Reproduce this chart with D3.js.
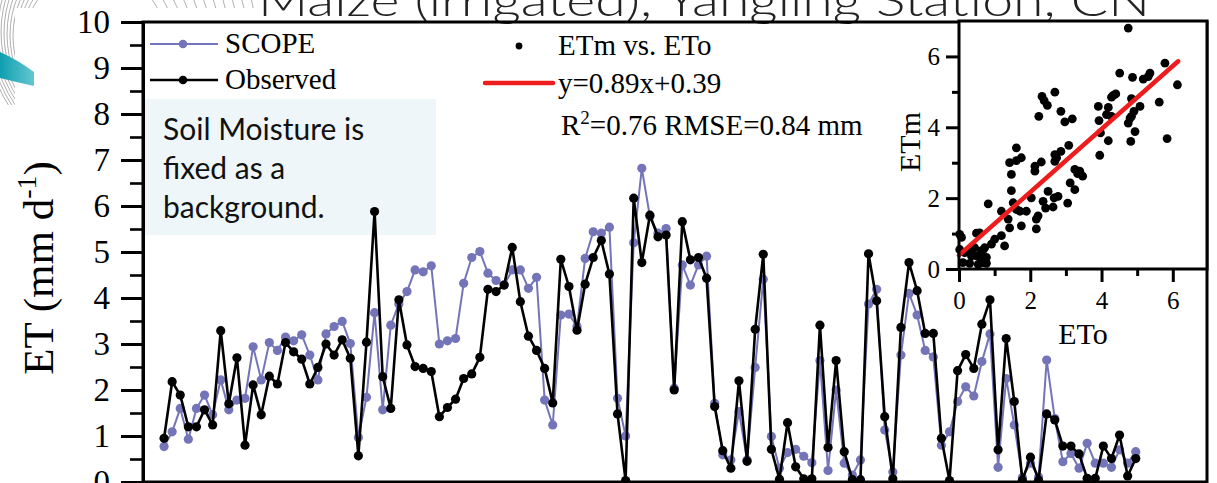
<!DOCTYPE html>
<html>
<head>
<meta charset="utf-8">
<script src="https://cdn.jsdelivr.net/npm/d3@7"></script>
<style>
  body { margin: 0; background: #fff; }
  svg { display: block; }
</style>
</head>
<body>
<div id="chart"></div>
<script>
// Daily ET (mm/d), one value per day
var observed = [0.95,2.18,1.89,1.20,1.20,1.57,1.24,3.29,1.70,2.70,0.80,2.11,1.46,2.30,2.13,3.03,2.83,2.67,2.13,2.49,
  3.00,2.76,3.09,2.69,0.57,3.04,5.88,2.29,1.60,3.96,2.98,2.51,2.47,2.40,1.42,1.62,1.80,2.25,2.35,2.71,
  4.19,4.14,4.28,5.10,3.92,3.17,2.86,2.47,1.72,4.84,4.25,3.30,4.30,4.88,5.25,4.52,1.48,0.03,6.17,4.77,
  5.80,5.33,5.37,2.00,5.66,4.83,4.88,4.43,1.64,0.68,0.30,2.20,0.45,3.32,4.95,0.71,0.06,1.29,0.33,0.07,
  0.07,3.41,0.75,2.64,0.66,0.05,0.05,4.96,3.94,1.42,0.07,3.36,4.77,4.16,3.23,3.23,0.95,0.03,2.42,2.77,
  2.47,3.43,3.96,0.70,3.12,1.75,0.04,0.54,0.04,1.48,1.35,0.78,0.78,0.61,0.08,0.08,0.78,0.51,1.02,0.13,0.51];
var scope = [0.77,1.09,1.60,0.93,1.60,1.89,1.46,2.22,1.57,1.78,1.82,2.94,2.22,3.03,2.86,3.15,3.07,3.20,2.76,2.22,
  3.22,3.38,3.49,3.01,0.97,1.84,3.68,1.57,3.41,3.87,4.14,4.61,4.57,4.70,3.00,3.07,3.12,4.32,4.88,5.01,
  4.54,4.38,4.28,4.61,4.61,4.21,4.45,1.78,1.24,3.63,3.65,3.38,4.86,5.44,5.41,5.54,1.82,1.00,5.20,6.82,
  5.77,5.41,5.51,2.04,4.72,4.28,4.72,4.91,1.71,0.59,0.48,1.53,0.48,2.49,4.41,0.99,0.30,0.64,0.71,0.56,
  0.42,2.64,0.25,2.00,0.41,0.15,0.48,3.87,4.19,1.13,0.22,2.76,4.10,3.63,2.86,2.72,0.80,1.09,1.75,2.07,
  1.87,2.62,3.22,0.32,2.25,1.24,0.10,0.41,0.11,2.65,1.38,0.44,0.62,0.30,0.84,0.41,0.41,0.32,0.70,0.41,0.66];
var etTicks = [0,1,2,3,4,5,6,7,8,9,10];
var etMinorTicks = [0.5,1.5,2.5,3.5,4.5,5.5,6.5,7.5,8.5,9.5];

// Inset: ETm vs ETo scatter
var eto = [2.69,2.33,2.39,2.48,2.24,2.86,3.18,2.97,3.08,1.61,1.75,1.42,1.61,2.13,2.13,2.31,2.69,2.69,2.86,2.74,
  3.25,3.33,3.12,3.25,1.47,1.47,0.82,1.19,1.52,1.61,1.71,1.89,2.03,2.36,2.50,2.67,2.78,2.64,2.43,3.05,
  2.22,2.17,1.75,1.38,1.42,2.17,1.19,1.00,1.28,0.91,0.58,0.07,0.02,0.02,0.30,0.44,0.49,0.63,0.72,0.77,
  0.54,0.68,0.11,0.35,0.16,0.30,0.58,0.77,0.49,0.68,
  4.75,5.78,6.13,4.51,4.87,5.17,5.31,5.36,4.33,4.40,4.28,3.91,4.19,4.14,4.28,3.93,3.97,4.19,3.95,4.84,
  5.08,4.91,4.84,4.80,4.75,4.94,4.82,5.62,5.84,3.39,3.47];
var etm = [4.99,4.87,4.75,4.62,4.31,4.45,4.24,4.15,3.49,3.42,3.14,3.00,3.06,2.90,2.76,3.02,3.23,3.04,3.32,3.14,
  2.81,2.69,2.43,2.24,2.67,2.21,1.84,1.63,1.87,1.68,1.63,1.63,2.01,1.91,2.19,2.01,2.05,1.75,1.72,1.86,
  1.50,1.41,1.22,1.41,1.16,1.13,0.94,0.84,0.65,0.70,1.02,0.89,0.98,0.55,0.51,0.60,0.37,0.51,0.60,0.33,
  0.13,0.18,0.18,0.37,0.46,0.16,0.34,0.16,1.01,0.54,
  6.80,5.81,5.20,5.53,5.41,5.36,5.43,5.53,4.90,4.94,4.85,4.59,4.56,4.36,4.31,4.19,3.84,3.62,3.21,4.81,
  4.59,4.45,4.31,4.26,4.12,3.88,3.60,4.71,3.68,2.76,2.62];
var insetTicks = [0,2,4,6];
var insetMinorTicks = [1,3,5];
var fitSlope = 0.89, fitIntercept = 0.39, fitRange = [0, 6.15];

var W = 1217, H = 483;
var serif = "'Liberation Serif', 'Times New Roman', serif";
var gothic = "Lato, 'DejaVu Sans', sans-serif";
var purple = "#7474b8";

var svg = d3.select("#chart").append("svg")
  .attr("width", W)
  .attr("height", H);

//Slide decoration in the top left corner
var defs = svg.append("defs");
var clip = defs.append("clipPath").attr("id", "decoClip");
clip.append("rect").attr("x", 0).attr("y", 0).attr("width", 15).attr("height", 105);
clip.append("rect").attr("x", 0).attr("y", 0).attr("width", 260).attr("height", 8);
var grad = defs.append("linearGradient").attr("id", "teal")
  .attr("x1", "0%").attr("x2", "100%").attr("y1", "0%").attr("y2", "0%");
grad.append("stop").attr("offset", "0%").attr("stop-color", "#0f9fb0");
grad.append("stop").attr("offset", "100%").attr("stop-color", "#63c7d0");

var deco = svg.append("g").attr("clip-path", "url(#decoClip)");
d3.range(14).forEach(function(k){
  deco.append("circle")
    .attr("cx", 95 + k * 3)
    .attr("cy", 40 - k)
    .attr("r", 70 + k * 6)
    .attr("fill", "none")
    .attr("stroke", "#9a9a9a")
    .attr("stroke-width", 0.8);
});
svg.append("rect")
  .attr("x", 15).attr("y", 8)
  .attr("width", W - 15).attr("height", H - 8)
  .attr("fill", "#fff");
svg.append("path")
  .attr("d", "M0,52 Q18,60 34,72 L34,86 Q16,82 0,78 Z")
  .attr("fill", "url(#teal)");

//Title (cut by the top of the slide)
svg.append("text")
  .attr("x", 258)
  .attr("y", 16)
  .attr("textLength", 892)
  .attr("lengthAdjust", "spacingAndGlyphs")
  .attr("font-family", gothic)
  .attr("font-weight", 300)
  .attr("font-size", 44)
  .attr("fill", "#222")
  .text("Maize (irrigated), Yangling Station, CN");

//Main plot
var plot = {left: 143, right: 1207, top: 22, bottom: 482};
var x = d3.scaleLinear().domain([-2.6, 128.8]).range([plot.left, plot.right]);
var y = d3.scaleLinear().domain([0, 10]).range([plot.bottom, plot.top]);

// annotation box
svg.append("rect")
  .attr("x", 145).attr("y", 99)
  .attr("width", 291).attr("height", 136)
  .attr("fill", "#eef6f9");
["Soil Moisture is", "fixed as a", "background."].forEach(function(line, i){
  svg.append("text")
    .attr("x", 163)
    .attr("y", 140 + i * 39)
    .attr("font-family", gothic)
    .attr("font-size", 30)
    .attr("fill", "#111")
    .text(line);
});

var series = [
  {name: "SCOPE", values: scope, color: purple, width: 2},
  {name: "Observed", values: observed, color: "#000", width: 2.6}
];

var line = d3.line()
  .x(function(d, i){ return x(i); })
  .y(function(d){ return y(d); });

series.forEach(function(s){
  var g = svg.append("g").attr("class", "serie");
  g.append("path")
    .datum(s.values)
    .attr("d", line)
    .attr("fill", "none")
    .attr("stroke", s.color)
    .attr("stroke-width", s.width)
    .attr("stroke-linejoin", "round");
  g.selectAll("circle")
    .data(s.values)
    .enter()
    .append("circle")
    .attr("cx", function(d, i){ return x(i); })
    .attr("cy", function(d){ return y(d); })
    .attr("r", 4.6)
    .attr("fill", s.color);
});

// frame
svg.append("rect")
  .attr("x", plot.left).attr("y", plot.top)
  .attr("width", plot.right - plot.left).attr("height", plot.bottom - plot.top)
  .attr("fill", "none")
  .attr("stroke", "#000")
  .attr("stroke-width", 3);

// y axis, major + minor ticks
var yAxis = svg.append("g")
  .attr("transform", "translate(" + plot.left + ",0)")
  .call(d3.axisLeft(y).tickValues(etTicks).tickSize(22).tickSizeOuter(0).tickPadding(11).tickFormat(d3.format("d")));
yAxis.select(".domain").attr("stroke-width", 3);
yAxis.selectAll(".tick line").attr("stroke-width", 3);
yAxis.selectAll("text")
  .attr("font-family", serif)
  .attr("font-size", 33)
  .attr("fill", "#000");
var yMinor = svg.append("g")
  .attr("transform", "translate(" + plot.left + ",0)")
  .call(d3.axisLeft(y).tickValues(etMinorTicks).tickSize(13).tickSizeOuter(0).tickFormat(""));
yMinor.select(".domain").remove();
yMinor.selectAll(".tick line").attr("stroke-width", 2.6);

// y axis title
var yTitle = svg.append("text")
  .attr("transform", "translate(53,268) rotate(-90)")
  .attr("text-anchor", "middle")
  .attr("font-family", serif)
  .attr("font-size", 43)
  .attr("fill", "#000");
yTitle.append("tspan").text("ET (mm d");
yTitle.append("tspan").attr("font-size", 28).attr("dy", -17).text("-1");
yTitle.append("tspan").attr("dy", 17).text(")");

// legend of the two series
series.forEach(function(s, i){
  var ly = 44 + i * 36;
  svg.append("line")
    .attr("x1", 150).attr("x2", 218)
    .attr("y1", ly).attr("y2", ly)
    .attr("stroke", s.color)
    .attr("stroke-width", s.width);
  svg.append("circle")
    .attr("cx", 183).attr("cy", ly)
    .attr("r", 4.3)
    .attr("fill", s.color);
  svg.append("text")
    .attr("x", 225)
    .attr("y", ly + 9)
    .attr("font-family", serif)
    .attr("font-size", 29)
    .attr("fill", "#000")
    .text(s.name);
});

// legend of the inset
svg.append("circle")
  .attr("cx", 519).attr("cy", 46)
  .attr("r", 3.4)
  .attr("fill", "#000");
svg.append("text")
  .attr("x", 558).attr("y", 55)
  .attr("font-family", serif).attr("font-size", 29)
  .text("ETm vs. ETo");
svg.append("line")
  .attr("x1", 485).attr("x2", 553)
  .attr("y1", 83).attr("y2", 83)
  .attr("stroke", "#ee1c1c")
  .attr("stroke-width", 4.5)
  .attr("stroke-linecap", "round");
svg.append("text")
  .attr("x", 558).attr("y", 93)
  .attr("font-family", serif).attr("font-size", 29)
  .text("y=" + fitSlope + "x+" + fitIntercept);
var r2 = svg.append("text")
  .attr("x", 561).attr("y", 135)
  .attr("font-family", serif).attr("font-size", 29);
r2.append("tspan").text("R");
r2.append("tspan").attr("font-size", 19).attr("dy", -11).text("2");
r2.append("tspan").attr("dy", 11).text("=0.76 RMSE=0.84 mm");

//Inset scatter
var inset = {left: 959, right: 1207, top: 21, bottom: 269};
var ix = d3.scaleLinear().domain([0, 6.96]).range([inset.left, inset.right]);
var iy = d3.scaleLinear().domain([0, 7]).range([inset.bottom, inset.top]);

svg.append("rect")
  .attr("x", inset.left).attr("y", inset.top)
  .attr("width", inset.right - inset.left).attr("height", inset.bottom - inset.top)
  .attr("fill", "#fff");

svg.append("g")
  .selectAll("circle")
  .data(eto)
  .enter()
  .append("circle")
  .attr("cx", function(d){ return ix(d); })
  .attr("cy", function(d, i){ return iy(etm[i]); })
  .attr("r", 4.4)
  .attr("fill", "#000");

svg.append("line")
  .attr("x1", ix(fitRange[0])).attr("y1", iy(fitSlope * fitRange[0] + fitIntercept))
  .attr("x2", ix(fitRange[1])).attr("y2", iy(fitSlope * fitRange[1] + fitIntercept))
  .attr("stroke", "#ee1c1c")
  .attr("stroke-width", 4.5)
  .attr("stroke-linecap", "round");

svg.append("rect")
  .attr("x", inset.left).attr("y", inset.top)
  .attr("width", inset.right - inset.left).attr("height", inset.bottom - inset.top)
  .attr("fill", "none")
  .attr("stroke", "#000")
  .attr("stroke-width", 3);

function styleAxis(g, size){
  g.select(".domain").remove();
  g.selectAll(".tick line").attr("stroke-width", 3);
  g.selectAll("text")
    .attr("font-family", serif)
    .attr("font-size", size)
    .attr("fill", "#000");
}
var ixAxis = svg.append("g")
  .attr("transform", "translate(0," + inset.bottom + ")")
  .call(d3.axisBottom(ix).tickValues(insetTicks).tickSize(13).tickPadding(9).tickFormat(d3.format("d")));
styleAxis(ixAxis, 25);
var ixMinor = svg.append("g")
  .attr("transform", "translate(0," + inset.bottom + ")")
  .call(d3.axisBottom(ix).tickValues(insetMinorTicks).tickSize(7).tickFormat(""));
styleAxis(ixMinor, 25);
var iyAxis = svg.append("g")
  .attr("transform", "translate(" + inset.left + ",0)")
  .call(d3.axisLeft(iy).tickValues(insetTicks).tickSize(13).tickPadding(6).tickFormat(d3.format("d")));
styleAxis(iyAxis, 25);
var iyMinor = svg.append("g")
  .attr("transform", "translate(" + inset.left + ",0)")
  .call(d3.axisLeft(iy).tickValues(insetMinorTicks).tickSize(7).tickFormat(""));
styleAxis(iyMinor, 25);

svg.append("text")
  .attr("x", 1083).attr("y", 344)
  .attr("text-anchor", "middle")
  .attr("font-family", serif).attr("font-size", 30)
  .text("ETo");
svg.append("text")
  .attr("transform", "translate(920,142) rotate(-90)")
  .attr("text-anchor", "middle")
  .attr("font-family", serif).attr("font-size", 30)
  .text("ETm");
</script>
</body>
</html>
